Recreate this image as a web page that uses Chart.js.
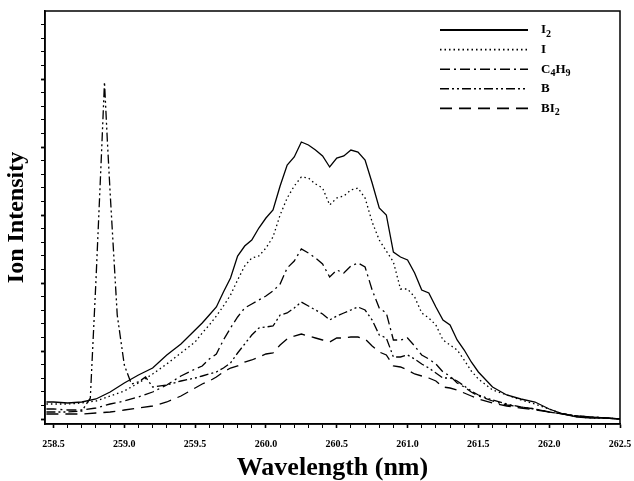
<!DOCTYPE html>
<html>
<head>
<meta charset="utf-8">
<script src="https://cdn.jsdelivr.net/npm/chart.js@4.4.1/dist/chart.umd.min.js"></script>
<style>
  html, body { margin: 0; padding: 0; background: #fff; }
  #wrap { width: 634px; height: 481px; }
</style>
</head>
<body>
<div id="wrap"><canvas id="ionChart"></canvas></div>
<script>
// wavelength grid (nm) shared by I2, I, C4H9, BI2
var wavelengths = [
  258.45, 258.5, 258.6, 258.7, 258.8, 258.9, 259.0, 259.1, 259.2, 259.3, 259.4,
  259.5, 259.55, 259.6, 259.65, 259.7, 259.75, 259.8, 259.85, 259.9, 259.95,
  260.0, 260.05, 260.1, 260.15, 260.2, 260.25, 260.3, 260.35, 260.4, 260.45,
  260.5, 260.55, 260.6, 260.65, 260.7, 260.75, 260.8, 260.85, 260.9, 260.95,
  261.0, 261.05, 261.1, 261.15, 261.2, 261.25, 261.3, 261.35, 261.4, 261.45,
  261.5, 261.6, 261.7, 261.8, 261.9, 262.0, 262.1, 262.2, 262.3, 262.4, 262.5
];

// ion intensity, arbitrary units
var i2Data = [
  22, 22, 21, 22, 25, 32, 41, 49, 56, 69, 80,
  94, 101, 109, 117, 132, 146, 168, 178, 184, 196,
  206, 214, 238, 259, 267, 282, 279, 274, 268, 257,
  266, 268, 274, 272, 264, 241, 216, 209, 172, 167,
  164, 151, 134, 131, 117, 104, 99, 84, 74, 62,
  52, 37, 29, 25, 22, 15, 10, 7, 6, 6, 5
];
var iData = [
  20, 20, 20, 21, 23, 28, 33, 41, 50, 60, 71,
  82, 91, 99, 108, 118, 129, 144, 158, 166, 168,
  176, 187, 209, 226, 238, 247, 246, 240, 236, 219,
  226, 228, 234, 236, 226, 202, 184, 173, 162, 135,
  135, 127, 111, 106, 99, 84, 79, 74, 64, 53,
  45, 34, 29, 24, 20, 15, 10, 7, 6, 6, 5
];
var c4h9Data = [
  15, 15, 14, 14, 16, 20, 23, 27, 32, 39, 48,
  55, 58, 65, 70, 84, 96, 107, 116, 120, 124,
  128, 133, 140, 156, 163, 175, 171, 166, 160, 147,
  154, 151, 158, 161, 157, 134, 116, 111, 84, 84,
  86, 78, 69, 65, 60, 52, 48, 41, 37, 32,
  28, 23, 19, 17, 15, 12, 10, 8, 7, 6, 5
];
var bi2Data = [
  10, 10, 10, 10, 11, 12, 14, 16, 18, 22, 28,
  36, 40, 43, 47, 52, 56, 58, 62, 64, 67,
  70, 71, 79, 85, 88, 90, 88, 86, 84, 82,
  86, 86, 87, 87, 85, 78, 72, 69, 58, 57,
  54, 50, 48, 46, 43, 37, 36, 34, 31, 28,
  25, 21, 18, 16, 14, 12, 10, 8, 7, 6, 5
];

// B has its own, finer grid around the sharp line at 258.86 nm
var bWavelengths = [
  258.45, 258.6, 258.7, 258.76, 258.8, 258.84, 258.86, 258.88, 258.9, 258.95,
  259.0, 259.05, 259.1, 259.15, 259.2, 259.3, 259.4,
  259.5, 259.55, 259.6, 259.65, 259.7, 259.75, 259.8, 259.85, 259.9, 259.95,
  260.0, 260.05, 260.1, 260.15, 260.2, 260.25, 260.3, 260.35, 260.4, 260.45,
  260.5, 260.55, 260.6, 260.65, 260.7, 260.75, 260.8, 260.85, 260.9, 260.95,
  261.0, 261.05, 261.1, 261.15, 261.2, 261.25, 261.3, 261.35, 261.4, 261.45,
  261.5, 261.6, 261.7, 261.8, 261.9, 262.0, 262.1, 262.2, 262.3, 262.4, 262.5
];
var bData = [
  12, 12, 13, 26, 144, 274, 342, 284, 231, 109,
  59, 40, 42, 47, 37, 39, 43,
  46, 48, 50, 52, 56, 61, 71, 80, 89, 96,
  97, 98, 109, 111, 116, 122, 118, 114, 110, 104,
  108, 111, 114, 117, 114, 104, 89, 86, 67, 67,
  69, 65, 60, 56, 51, 46, 46, 43, 38, 33,
  29, 24, 20, 17, 15, 12, 10, 8, 7, 6, 5
];

var seriesLabels = ['I\u2082', 'I', 'C\u2084H\u2089', 'B', 'BI\u2082'];
var xTickValues = [258.5, 259.0, 259.5, 260.0, 260.5, 261.0, 261.5, 262.0, 262.5];
var xTickLabels = ['258.5', '259.0', '259.5', '260.0', '260.5', '261.0', '261.5', '262.0', '262.5'];

function points(xs, ys) {
  return xs.map(function (x, i) { return { x: x, y: ys[i] }; });
}

function isLabelTick(v) {
  return xTickValues.some(function (t) { return Math.abs(t - v) < 1e-6; });
}

var serif = "'Liberation Serif', 'Times New Roman', serif";

// box round the plot
var framePlugin = {
  id: 'frame',
  afterDraw: function (chart) {
    var a = chart.chartArea, c = chart.ctx;
    c.save();
    c.strokeStyle = '#000';
    c.lineWidth = 1.5;
    c.strokeRect(a.left, a.top, a.right - a.left, a.bottom - a.top);
    c.restore();
  }
};

// legend drawn inside the plot, with subscripts
var legendPlugin = {
  id: 'innerLegend',
  afterDraw: function (chart) {
    var c = chart.ctx;
    var x0 = 440, x1 = 528, tx = 541, y0 = 30, dy = 19.6;
    c.save();
    chart.data.datasets.forEach(function (ds, i) {
      var y = y0 + i * dy;
      c.strokeStyle = '#000';
      c.lineWidth = i === 0 ? 2 : ds.borderWidth + 0.3;
      c.setLineDash(ds.borderDash || []);
      c.beginPath();
      c.moveTo(x0, y);
      c.lineTo(x1, y);
      c.stroke();
      c.setLineDash([]);
      c.fillStyle = '#000';
      c.textBaseline = 'middle';
      var x = tx;
      Array.from(ds.label).forEach(function (ch) {
        var code = ch.charCodeAt(0);
        if (code >= 0x2080 && code <= 0x2089) {
          var d = String(code - 0x2080);
          c.font = 'bold 10px ' + serif;
          c.fillText(d, x, y + 4);
          x += c.measureText(d).width;
        } else {
          c.font = 'bold 13px ' + serif;
          c.fillText(ch, x, y);
          x += c.measureText(ch).width;
        }
      });
    });
    c.restore();
  }
};

var styles = [
  { data: points(wavelengths, i2Data), dash: [] },
  { data: points(wavelengths, iData), dash: [1.5, 3] },
  { data: points(wavelengths, c4h9Data), dash: [10, 4, 2, 4] },
  { data: points(bWavelengths, bData), dash: [9, 3, 2, 3, 2, 3] },
  { data: points(wavelengths, bi2Data), dash: [12, 7] }
];

new Chart(document.getElementById('ionChart'), {
  type: 'line',
  data: {
    datasets: styles.map(function (s, i) {
      return {
        label: seriesLabels[i],
        data: s.data,
        borderColor: '#000',
        borderWidth: 1.3,
        borderDash: s.dash,
        pointRadius: 0,
        tension: 0,
        fill: false
      };
    })
  },
  options: {
    responsive: true,
    maintainAspectRatio: false,
    animation: false,
    layout: { padding: { top: 11, right: 14, left: 0, bottom: 0 } },
    plugins: {
      legend: { display: false },
      tooltip: { enabled: false }
    },
    scales: {
      x: {
        type: 'linear',
        min: 258.44,
        max: 262.5,
        afterFit: function (s) {
          s.height = 57;
          s.paddingLeft = 0;
          s.paddingRight = 0;
        },
        afterBuildTicks: function (s) {
          var t = [];
          for (var k = 0; k <= 40; k++) t.push({ value: +(258.5 + k * 0.1).toFixed(1) });
          s.ticks = t;
        },
        border: { color: '#000', width: 1.5 },
        grid: {
          drawOnChartArea: false,
          tickLength: 4,
          tickColor: '#000',
          tickWidth: function (c) { return c.tick && isLabelTick(c.tick.value) ? 1.6 : 1; }
        },
        ticks: {
          autoSkip: false,
          maxRotation: 0,
          padding: 10,
          color: '#000',
          font: { family: serif, size: 10, weight: 'bold' },
          callback: function (v) {
            var i = xTickValues.findIndex(function (t) { return Math.abs(t - v) < 1e-6; });
            return i >= 0 ? xTickLabels[i] : '';
          }
        },
        title: {
          display: true,
          text: 'Wavelength (nm)',
          color: '#000',
          font: { family: serif, size: 26, weight: 'bold', lineHeight: 1 },
          padding: { top: 0, bottom: 0 }
        }
      },
      y: {
        min: 0,
        max: 413,
        afterFit: function (s) {
          s.width = 45;
          s.paddingTop = 0;
          s.paddingBottom = 0;
        },
        afterBuildTicks: function (s) {
          var t = [];
          for (var j = 0; j < 30; j++) t.push({ value: 5 + j * 13.6 });
          s.ticks = t;
        },
        border: { color: '#000', width: 1.5 },
        grid: {
          drawOnChartArea: false,
          tickLength: 4,
          tickColor: '#000',
          tickWidth: function (c) { return c.index % 5 === 0 ? 1.8 : 1; }
        },
        ticks: {
          autoSkip: false,
          callback: function () { return ''; }
        },
        title: {
          display: true,
          text: 'Ion Intensity',
          color: '#000',
          font: { family: serif, size: 24, weight: 'bold', lineHeight: 1 },
          padding: { top: 5, bottom: 0 }
        }
      }
    }
  },
  plugins: [framePlugin, legendPlugin]
});
</script>
</body>
</html>
